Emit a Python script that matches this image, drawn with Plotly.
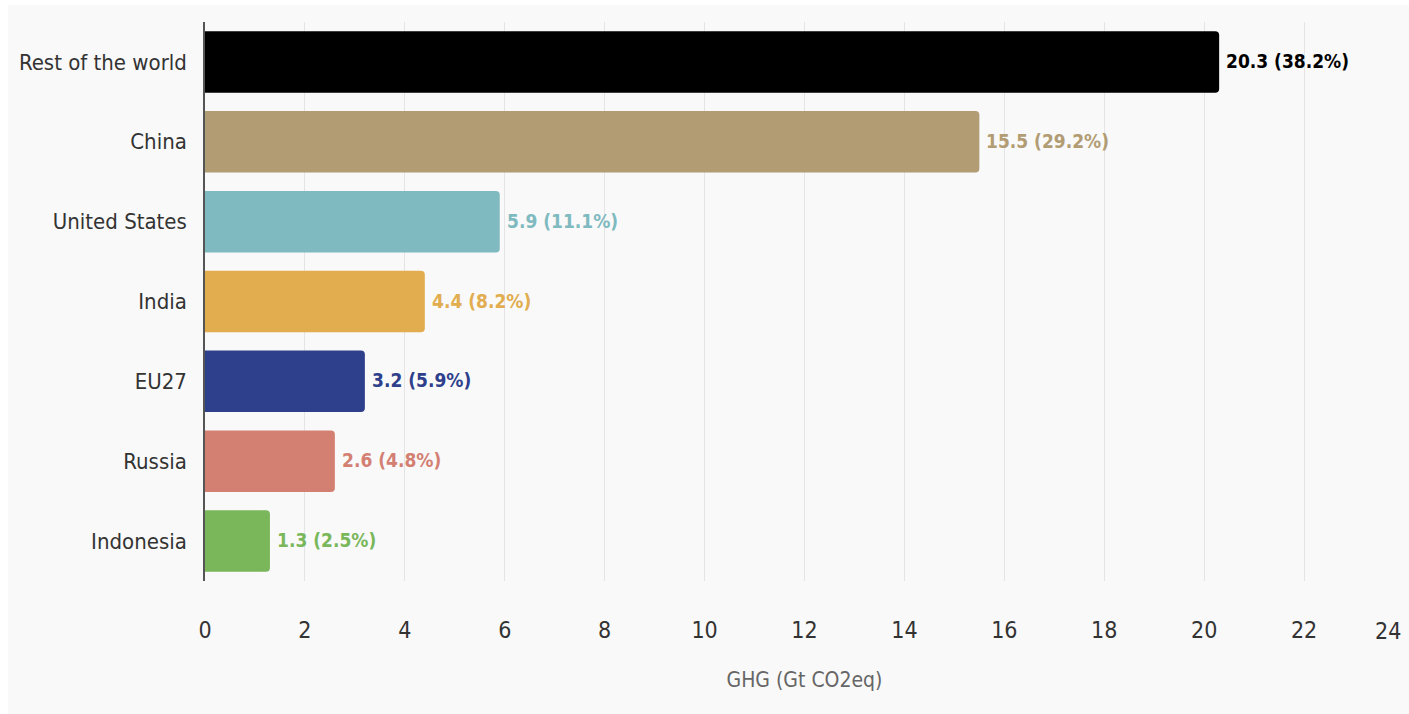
import plotly.graph_objects as go

categories = ["Rest of the world", "China", "United States", "India", "EU27", "Russia", "Indonesia"]
values = [20.3, 15.5, 5.9, 4.4, 3.2, 2.6, 1.3]
shares = ["38.2%", "29.2%", "11.1%", "8.2%", "5.9%", "4.8%", "2.5%"]
colors = ["#000000", "#b29c73", "#7fbac0", "#e1ad4f", "#2e3f8b", "#d38073", "#7ab75b"]
tick_vals = [0, 2, 4, 6, 8, 10, 12, 14, 16, 18, 20, 22, 24]

FONT = "DejaVu Sans Condensed, Liberation Sans Narrow, sans-serif"

labels = [f"{v:.1f} ({s})" for v, s in zip(values, shares)]

fig = go.Figure()
fig.add_trace(go.Bar(
    y=categories, x=values, orientation="h",
    marker=dict(color=colors, line=dict(width=0)),
    width=0.77,
    hoverinfo="skip",
))

for c, v, lab, col in zip(categories, values, labels, colors):
    fig.add_annotation(x=v, y=c, text=f"<b>{lab}</b>", showarrow=False,
                       xanchor="left", xshift=5, yshift=1,
                       font=dict(family=FONT, size=19, color=col))

# last tick label kept inside the picture (as in the reference)
last_tick = tick_vals[-1]
fig.add_annotation(x=last_tick, y=0, yref="paper", text=str(last_tick), showarrow=False,
                   xanchor="right", yanchor="top", yshift=-35, xshift=-1,
                   font=dict(family=FONT, size=23, color="#333333"))

fig.add_shape(type="rect", xref="paper", yref="paper",
              x0=(8 - 205) / 1199, x1=(1412 - 205) / 1199,
              y0=-(717 - 581) / 559, y1=1 + (22 - 5) / 559,
              fillcolor="#f9f9f9", line=dict(width=0), layer="below")

fig.update_layout(
    width=1409, height=714,
    margin=dict(l=205, r=5, t=22, b=133),
    paper_bgcolor="#ffffff",
    plot_bgcolor="rgba(0,0,0,0)",
    barcornerradius=4,
    showlegend=False,
    font=dict(family=FONT, color="#333333"),
    xaxis=dict(
        range=[0, 24], tickvals=tick_vals,
        ticktext=[str(t) if t != last_tick else "" for t in tick_vals],
        showgrid=True, gridcolor="#e4e4e4", gridwidth=1,
        zeroline=False, showline=False, ticks="",
        tickfont=dict(family=FONT, size=23, color="#333333"),
        ticklabelstandoff=33,
        title=dict(text="GHG (Gt CO2eq)", font=dict(family=FONT, size=21, color="#666666"), standoff=30),
        automargin=False, fixedrange=True,
    ),
    yaxis=dict(
        categoryorder="array", categoryarray=categories[::-1],
        showline=True, linecolor="#555555", linewidth=1.5,
        showgrid=False, ticks="", ticklabelstandoff=12,
        tickfont=dict(family=FONT, size=22, color="#333333"),
        automargin=False, fixedrange=True,
    ),
)

fig.write_html("out.html")
